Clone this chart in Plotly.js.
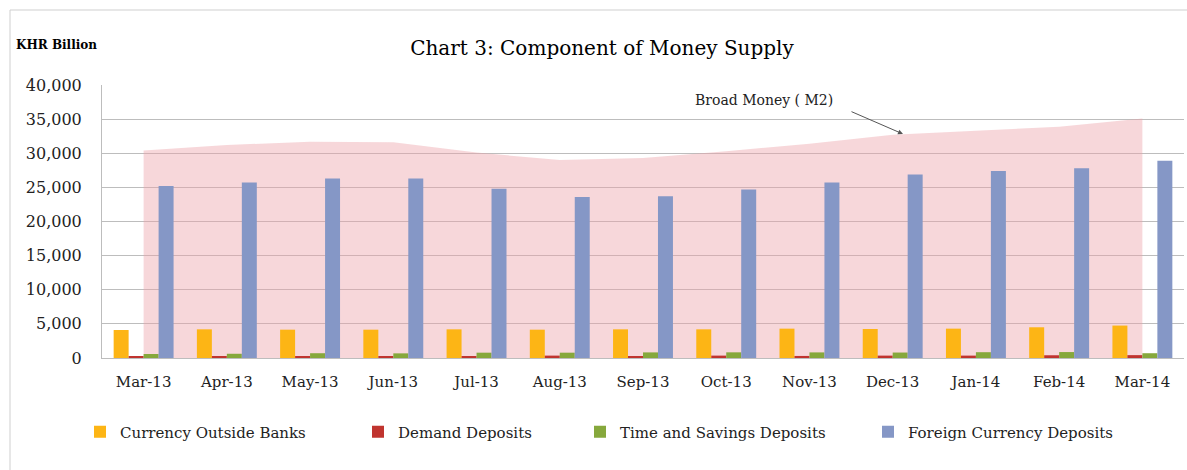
<!DOCTYPE html>
<html>
<head>
<meta charset="utf-8">
<script src="https://cdn.plot.ly/plotly-3.0.1.min.js"></script>
<style>
  html, body { margin: 0; padding: 0; background: #fff; }
  #chart { width: 1187px; height: 470px; }
</style>
</head>
<body>
<div id="chart"></div>
<script>
// ---- data (KHR billion) ----
const months = ["Mar-13","Apr-13","May-13","Jun-13","Jul-13","Aug-13","Sep-13","Oct-13","Nov-13","Dec-13","Jan-14","Feb-14","Mar-14"];
const broadMoneyM2 = [30400, 31200, 31700, 31600, 30100, 29000, 29300, 30300, 31400, 32700, 33300, 33900, 35100];
const currencyOutsideBanks = [4100, 4200, 4150, 4150, 4200, 4150, 4200, 4200, 4300, 4250, 4300, 4500, 4750];
const demandDeposits = [150, 200, 200, 200, 250, 350, 250, 350, 300, 350, 350, 400, 420];
const timeSavingsDeposits = [590, 620, 700, 680, 780, 780, 820, 830, 820, 800, 850, 870, 700];
const foreignCurrencyDeposits = [25200, 25700, 26300, 26300, 24800, 23600, 23700, 24700, 25700, 26900, 27400, 27800, 28900];
const yTicks = [0, 5000, 10000, 15000, 20000, 25000, 30000, 35000, 40000];
const yRange = [0, 40000];
const xRange = [-0.5, months.length - 0.5];

const serif = "DejaVu Serif, Liberation Serif, serif";

// plot area geometry helpers (pixels -> paper)
const L = 102, R = 1184, T = 85, B = 358;
const px = x => (x - L) / (R - L);
const py = y => (B - y) / (B - T);

const traces = [
  {
    type: "scatter", x: months, y: broadMoneyM2, name: "Broad Money ( M2)",
    xaxis: "x", yaxis: "y",
    mode: "none", fill: "tozeroy", fillcolor: "rgba(236,160,168,0.42)",
    showlegend: false, hoverinfo: "y"
  },
  { type: "bar", x: months, y: currencyOutsideBanks, name: "Currency Outside Banks",
    xaxis: "x2", yaxis: "y2", marker: { color: "#FDB515" }, legend: "legend" },
  { type: "bar", x: months, y: demandDeposits, name: "Demand Deposits",
    xaxis: "x2", yaxis: "y2", marker: { color: "#C0342F" }, legend: "legend2" },
  { type: "bar", x: months, y: timeSavingsDeposits, name: "Time and Savings Deposits",
    xaxis: "x2", yaxis: "y2", marker: { color: "#86A83C" }, legend: "legend3" },
  { type: "bar", x: months, y: foreignCurrencyDeposits, name: "Foreign Currency Deposits",
    xaxis: "x2", yaxis: "y2", marker: { color: "#8597C6" }, legend: "legend4" }
];

const legendBase = (xpix) => ({
  x: px(xpix), xanchor: "left", y: py(432), yanchor: "middle",
  orientation: "h", bgcolor: "rgba(0,0,0,0)",
  font: { family: serif, size: 15, color: "#222" },
  itemwidth: 30
});

const layout = {
  width: 1187, height: 470,
  margin: { l: L, r: 1187 - R, t: T, b: 470 - B },
  paper_bgcolor: "#fff", plot_bgcolor: "#fff",
  title: {
    text: "Chart 3: Component of Money Supply",
    font: { family: serif, size: 20, color: "#000" },
    x: 602 / 1187, xanchor: "center", xref: "container",
    y: 1 - 48 / 470, yanchor: "middle", yref: "container"
  },
  barmode: "group", bargap: 0.28, bargroupgap: 0,
  xaxis: {
    type: "category", categoryorder: "array", categoryarray: months, range: xRange,
    showgrid: false, showline: true, linecolor: "#bdbdbd", linewidth: 1,
    ticks: "", ticklabelstandoff: 10,
    tickfont: { family: serif, size: 15, color: "#222" }
  },
  yaxis: {
    range: yRange, tickvals: yTicks, tickformat: ",d",
    showgrid: true, gridcolor: "#bdbdbd", gridwidth: 1,
    showline: true, linecolor: "#bdbdbd", linewidth: 1,
    zeroline: false, ticks: "", ticklabelstandoff: 16,
    tickfont: { family: serif, size: 16, color: "#222" }
  },
  xaxis2: {
    type: "category", categoryorder: "array", categoryarray: months, range: xRange,
    overlaying: "x", showgrid: false, showline: false, showticklabels: false, ticks: ""
  },
  yaxis2: {
    range: yRange, overlaying: "y", showgrid: false, showline: false,
    showticklabels: false, zeroline: false, ticks: ""
  },
  showlegend: true,
  legend: legendBase(80),
  legend2: legendBase(358),
  legend3: legendBase(580),
  legend4: legendBase(868),
  annotations: [
    { text: "<b>KHR Billion</b>", xref: "paper", yref: "paper",
      x: px(14), xanchor: "left", y: py(45), yanchor: "middle",
      showarrow: false, font: { family: serif, size: 12, color: "#000" } },
    { text: "Broad Money ( M2)", xref: "paper", yref: "paper",
      x: px(764), xanchor: "center", y: py(100), yanchor: "middle",
      showarrow: false, font: { family: serif, size: 14, color: "#222" } },
    { text: "", xref: "paper", yref: "paper",
      x: px(903), y: py(134), ax: -53, ay: -23,
      showarrow: true, arrowhead: 2, arrowsize: 1, arrowwidth: 1, arrowcolor: "#555" }
  ],
  shapes: [
    { type: "rect", xref: "paper", yref: "paper",
      x0: px(10), x1: px(1200), y0: py(490), y1: py(10),
      line: { color: "#cfcfcf", width: 1 }, fillcolor: "rgba(0,0,0,0)", layer: "below" }
  ]
};

Plotly.newPlot("chart", traces, layout, { displayModeBar: false, responsive: false });
</script>
</body>
</html>
